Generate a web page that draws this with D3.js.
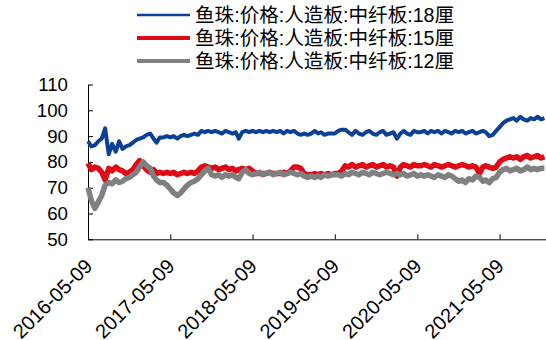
<!DOCTYPE html>
<html>
<head>
<meta charset="utf-8">
<script src="https://cdn.jsdelivr.net/npm/d3@7/dist/d3.min.js"></script>
<style>
  html, body { margin: 0; padding: 0; background: #fff; }
  svg { display: block; }
  text { font-family: "Liberation Sans", Arial, "Noto Sans CJK SC", sans-serif; fill: #000; }
</style>
</head>
<body>
<svg id="chart" width="546" height="340"></svg>
<script>
// Semi-monthly observation dates
const dates = [
  "2016-05-09","2016-05-24","2016-06-09","2016-06-24","2016-07-09","2016-07-24","2016-08-09","2016-08-24",
  "2016-09-09","2016-09-24","2016-10-09","2016-10-24","2016-11-09","2016-11-24","2016-12-09","2016-12-24",
  "2017-01-09","2017-01-24","2017-02-09","2017-02-24","2017-03-09","2017-03-24","2017-04-09","2017-04-24",
  "2017-05-09","2017-05-24","2017-06-09","2017-06-24","2017-07-09","2017-07-24","2017-08-09","2017-08-24",
  "2017-09-09","2017-09-24","2017-10-09","2017-10-24","2017-11-09","2017-11-24","2017-12-09","2017-12-24",
  "2018-01-09","2018-01-24","2018-02-09","2018-02-24","2018-03-09","2018-03-24","2018-04-09","2018-04-24",
  "2018-05-09","2018-05-24","2018-06-09","2018-06-24","2018-07-09","2018-07-24","2018-08-09","2018-08-24",
  "2018-09-09","2018-09-24","2018-10-09","2018-10-24","2018-11-09","2018-11-24","2018-12-09","2018-12-24",
  "2019-01-09","2019-01-24","2019-02-09","2019-02-24","2019-03-09","2019-03-24","2019-04-09","2019-04-24",
  "2019-05-09","2019-05-24","2019-06-09","2019-06-24","2019-07-09","2019-07-24","2019-08-09","2019-08-24",
  "2019-09-09","2019-09-24","2019-10-09","2019-10-24","2019-11-09","2019-11-24","2019-12-09","2019-12-24",
  "2020-01-09","2020-01-24","2020-02-09","2020-02-24","2020-03-09","2020-03-24","2020-04-09","2020-04-24",
  "2020-05-09","2020-05-24","2020-06-09","2020-06-24","2020-07-09","2020-07-24","2020-08-09","2020-08-24",
  "2020-09-09","2020-09-24","2020-10-09","2020-10-24","2020-11-09","2020-11-24","2020-12-09","2020-12-24",
  "2021-01-09","2021-01-24","2021-02-09","2021-02-24","2021-03-09","2021-03-24","2021-04-09","2021-04-24",
  "2021-05-09","2021-05-24","2021-06-09","2021-06-24","2021-07-09","2021-07-24","2021-08-09","2021-08-24",
  "2021-09-09","2021-09-24","2021-10-09","2021-10-24","2021-11-09","2021-11-24"
];

// 鱼珠 中纤板 18厘
const board18 = [
  88, 86, 86.5, 88, 89, 93, 83, 87, 84, 88, 85, 86, 86.5, 87.5, 88.5, 89,
  89.5, 90.5, 91, 89, 87.5, 89.5, 89.5, 90,
  89.5, 90, 89, 90, 90.5, 90, 90.5, 91, 90.5, 92, 91.5, 92,
  91.5, 92, 91.5, 91, 92, 91.5, 91, 91.5, 89, 91.5, 92, 91.5,
  92, 91.5, 92, 91.5, 92, 91.5, 92, 91.5, 92, 91, 92, 91.5,
  92, 91, 90.5, 91, 90.5, 91, 92, 91, 91.5, 90.5, 91, 91,
  91, 92, 92.5, 92.5, 91.5, 90.5, 92, 91, 90.5, 91.5, 92, 91,
  90.5, 91.5, 92, 90.5, 91, 91.5, 89, 91, 92, 91, 90.5, 92,
  91.5, 91.5, 92, 91, 92, 91.5, 92, 91, 92, 91.5, 91, 92,
  91.5, 92, 91, 91.5, 92, 91, 91.5, 92, 91.5, 90, 90.5, 92,
  93.5, 95, 96, 96.5, 97, 96, 97.5, 96.5, 96, 97, 96.5, 97.5,
  96.5, 97
];

// 鱼珠 中纤板 15厘
const board15 = [
  79.5, 77, 78, 77.5, 76, 73, 77.5, 76.5, 78, 77, 76.5, 75.5, 76, 77, 79, 80.5,
  78.5, 77, 76, 77, 75.5, 76, 75.5, 76,
  75.5, 76, 75, 75.5, 76, 75.5, 76, 75.5, 76.5, 78, 78.5, 78,
  77.5, 78, 77, 77.5, 78, 77, 77.5, 76.5, 77, 77.5, 77, 77.5,
  76.5, 75.5, 75.5, 75.5, 75.5, 76, 75.5, 75.5, 75.5, 76, 75.5, 76.5,
  78, 78, 77.5, 75.5, 75, 75, 75.5, 75, 75.5, 75, 75.5, 75,
  75.5, 75.5, 76.5, 78.5, 78, 79, 78, 78.5, 79, 78, 78.5, 79,
  78, 78.5, 79, 78, 78.5, 78, 74.5, 78, 79, 78.5, 78, 79,
  78.5, 78.5, 79, 78.5, 78, 79, 78.5, 78, 78.5, 79, 78.5, 78,
  78.5, 79, 78.5, 78, 78.5, 78, 75.5, 78, 78.5, 78, 77.5, 78,
  80, 81, 81.5, 82, 81.5, 82, 81, 82, 82.5, 81.5, 82, 82.5,
  81.5, 82
];

// 鱼珠 中纤板 12厘
const board12 = [
  70, 65, 62, 64.5, 67, 71, 72, 71.5, 73, 72, 72.5, 73.5, 74, 75, 76, 78,
  80, 78.5, 77.5, 74.5, 73, 72, 72, 71,
  69.5, 68, 67, 68, 69.5, 71, 72, 72.5, 73.5, 75, 76.5, 77.5,
  75, 74.5, 75, 74, 75, 74.5, 75, 74, 73.5, 76, 77, 75.5,
  75, 75.5, 76, 75, 75.5, 76, 75, 75.5, 76, 75, 75.5, 76,
  75.5, 75, 75.5, 74.5, 74, 74.5, 74, 74.5, 74, 75, 74.5, 75,
  75, 75, 74.5, 75.5, 75, 76, 75.5, 75, 76, 75.5, 75, 76,
  75.5, 75, 75.5, 76, 75.5, 75, 75.5, 75, 75.5, 74.5, 75, 75.5,
  74.5, 75, 74.5, 75, 74.5, 74, 75, 74.5, 74, 75, 74.5, 73.5,
  72.5, 73, 72, 73.5, 73, 74.5, 74, 72.5, 73, 72, 73.5, 74,
  76, 77, 77.5, 76.5, 77, 77.5, 76.5, 77, 78, 77, 77.5, 77,
  77.5, 77.5
];

const seriesNames = [
  "鱼珠:价格:人造板:中纤板:18厘",
  "鱼珠:价格:人造板:中纤板:15厘",
  "鱼珠:价格:人造板:中纤板:12厘"
];
const seriesColors = ["#0a4196", "#e00a17", "#808080"];
const seriesWidths = [4, 5.5, 5.5];
const legendWidths = [2.7, 4, 4];

const yTicks = [50, 60, 70, 80, 90, 100, 110];
const xTickLabels = ["2016-05-09", "2017-05-09", "2018-05-09", "2019-05-09", "2020-05-09", "2021-05-09"];
const xDomainEnd = "2021-12-01";

(function draw() {
  const parse = d3.timeParse("%Y-%m-%d");
  const fmt = d3.timeFormat("%Y-%m-%d");
  const svg = d3.select("#chart");

  const plotLeft = 88, plotRight = 546, plotTop = 84.5, plotBottom = 239.3;

  const x = d3.scaleTime()
    .domain([parse(dates[0]), parse(xDomainEnd)])
    .range([plotLeft, plotRight]);
  const y = d3.scaleLinear().domain([50, 110]).range([plotBottom, plotTop]);

  // Axes with inward ticks
  const yAxis = svg.append("g")
    .attr("transform", `translate(${plotLeft},0)`)
    .call(d3.axisLeft(y).tickValues(yTicks).tickSizeInner(-5).tickSizeOuter(0).tickPadding(20));
  yAxis.select(".domain").attr("stroke", "#000");
  yAxis.selectAll(".tick line").attr("stroke", "#000");
  yAxis.selectAll("text").attr("font-size", "18.67px")
    .attr("font-family", "'Liberation Sans', Arial, sans-serif").attr("fill", "#000");

  const xAxis = svg.append("g")
    .attr("transform", `translate(0,${plotBottom})`)
    .call(d3.axisBottom(x).tickValues(xTickLabels.map(parse)).tickFormat(fmt)
      .tickSizeInner(-5).tickSizeOuter(0));
  xAxis.select(".domain").attr("stroke", "#000");
  xAxis.selectAll(".tick line").attr("stroke", "#000");
  xAxis.selectAll("text")
    .attr("font-size", "20px")
    .attr("font-family", "'Liberation Sans', Arial, sans-serif")
    .attr("fill", "#000")
    .attr("text-anchor", "end")
    .attr("dy", null)
    .attr("y", 0)
    .attr("transform", "translate(5,28) rotate(-45)");

  // Series lines, grey drawn last so it sits on top
  const allSeries = [board18, board15, board12];
  const line = d3.line()
    .x((d, i) => x(parse(dates[i])))
    .y(d => y(d))
    .curve(d3.curveLinear);

  allSeries.forEach((vals, k) => {
    svg.append("path")
      .datum(vals)
      .attr("fill", "none")
      .attr("stroke", seriesColors[k])
      .attr("stroke-width", seriesWidths[k])
      .attr("stroke-linejoin", "round")
      .attr("d", line);
  });

  // Legend
  const legend = svg.append("g");
  seriesNames.forEach((name, k) => {
    const ly = 15 + k * 23;
    legend.append("line")
      .attr("x1", 137).attr("x2", 190)
      .attr("y1", ly).attr("y2", ly)
      .attr("stroke", seriesColors[k])
      .attr("stroke-width", legendWidths[k]);
    legend.append("text")
      .attr("x", 195).attr("y", ly)
      .attr("dy", "0.36em")
      .attr("font-size", "19.6px")
      .text(name);
  });
})();
</script>
</body>
</html>
